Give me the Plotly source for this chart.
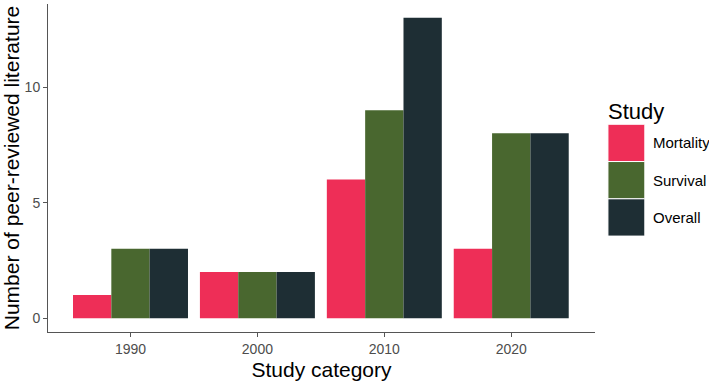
import plotly.graph_objects as go

categories = ["1990", "2000", "2010", "2020"]
series_names = ["Mortality", "Survival", "Overall"]
mortality = [1, 2, 6, 3]
survival = [3, 2, 9, 8]
overall = [3, 2, 13, 8]
values = [mortality, survival, overall]
colors = ["#EE2E57", "#49672F", "#1E2E34"]
y_ticks = [0, 5, 10]

W, H = 709, 381
L, R, T, B = 46, 595, 4, 334  # plot area in pixels

fig = go.Figure()
for name, vals, col in zip(series_names, values, colors):
    fig.add_trace(go.Bar(x=categories, y=vals, name=name, marker=dict(color=col, line=dict(width=0)),
                         showlegend=False))

def px(x):
    return (x - L) / (R - L)

def py(y):
    return (B - y) / (B - T)

# manual legend (ggplot style big keys)
shapes = []
annotations = []
key_x0, key_x1 = 608, 645
key_top = 125
key_h = 37.5
for i, (name, col) in enumerate(zip(series_names, colors)):
    y0 = key_top + i * key_h
    y1 = y0 + key_h
    shapes.append(dict(type="rect", xref="paper", yref="paper",
                       x0=px(key_x0), x1=px(key_x1), y0=py(y1), y1=py(y0),
                       fillcolor=col, line=dict(color="white", width=1)))
    annotations.append(dict(xref="paper", yref="paper", x=px(651), y=py((y0 + y1) / 2),
                            text=name, showarrow=False, xanchor="left", yanchor="middle",
                            font=dict(size=15, color="black", family="Liberation Sans, Arial")))
annotations.append(dict(xref="paper", yref="paper", x=px(606), y=py(112),
                        text="Study", showarrow=False, xanchor="left", yanchor="middle",
                        font=dict(size=22, color="black", family="Liberation Sans, Arial")))

fig.update_layout(
    width=W, height=H,
    margin=dict(l=L, r=W - R, t=T, b=H - B, pad=0),
    paper_bgcolor="white", plot_bgcolor="white",
    barmode="group", bargap=0.094, bargroupgap=0,
    font=dict(family="Liberation Sans, Arial", color="black"),
    shapes=shapes, annotations=annotations,
    xaxis=dict(
        type="category", range=[-0.65, 3.66],
        showline=True, linecolor="#555555", linewidth=1,
        ticks="outside", ticklen=4, tickcolor="#555555", tickwidth=1,
        tickfont=dict(size=14, color="#4D4D4D"),
        showgrid=False, zeroline=False,
        title=dict(text="Study category", font=dict(size=21, color="black"), standoff=6),
    ),
    yaxis=dict(
        range=[-0.6, 13.6], tickvals=y_ticks,
        showline=True, linecolor="#555555", linewidth=1,
        ticks="outside", ticklen=4, tickcolor="#555555", tickwidth=1,
        tickfont=dict(size=14, color="#4D4D4D"),
        showgrid=False, zeroline=False,
        title=dict(text="Number of peer-reviewed literature", font=dict(size=21, color="black"), standoff=6),
    ),
)

fig.write_html("out.html")
